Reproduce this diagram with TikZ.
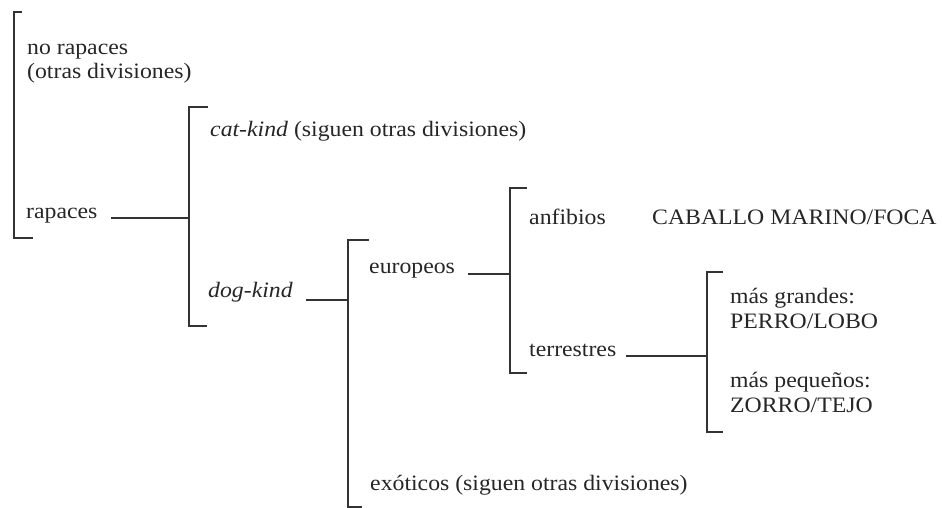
\documentclass[tikz,border=0pt]{standalone}
\usepackage{fontspec}
\setmainfont[FakeStretch=1.08]{Liberation Serif}
\begin{document}
\begin{tikzpicture}[x=1pt,y=-1pt,
  txt/.style={anchor=base west,inner sep=0pt,text=black!85,font=\fontsize{22}{26}\selectfont},
  ln/.style={line width=1.8pt,draw=black!80}]
\useasboundingbox (0,0) rectangle (942,508);
% texts
\node[txt] (norap) at (27,55) {no rapaces};
\node[txt] (otras) at (27,79) {(otras divisiones)};
\node[txt] (rap) at (26,218) {rapaces};
\node[txt] (cat) at (210,137) {\textit{cat-kind} (siguen otras divisiones)};
\node[txt] (dog) at (208,297) {\textit{dog-kind}};
\node[txt] (eur) at (369,273) {europeos};
\node[txt] (exo) at (370,490) {exóticos (siguen otras divisiones)};
\node[txt] (anf) at (529,224) {anfibios};
\node[txt] (cab) at (652,224) {CABALLO MARINO/FOCA};
\node[txt] (ter) at (529,356) {terrestres};
\node[txt] (mg) at (730,303) {más grandes:};
\node[txt] (pl) at (730,328) {PERRO/LOBO};
\node[txt] (mp) at (730,387) {más pequeños:};
\node[txt] (zt) at (730,412) {ZORRO/TEJO};
% bracket coordinates
\coordinate (b1t) at (14,12);   \coordinate (b1b) at (14,238);
\coordinate (b2t) at (189,107); \coordinate (b2b) at (189,326);
\coordinate (b3t) at (348,240); \coordinate (b3b) at (348,507);
\coordinate (b4t) at (510,188); \coordinate (b4b) at (510,373);
\coordinate (b5t) at (707,272); \coordinate (b5b) at (707,432);
\coordinate (j2) at (189,218);
\coordinate (j3) at (348,300);
\coordinate (j4) at (510,274);
\coordinate (j5) at (707,356);
% brackets
\draw[ln] ([xshift=8pt]b1t) -- (b1t) -- (b1b) -- ([xshift=19pt]b1b);
\draw[ln] ([xshift=19pt]b2t) -- (b2t) -- (b2b) -- ([xshift=18pt]b2b);
\draw[ln] ([xshift=21pt]b3t) -- (b3t) -- (b3b) -- ([xshift=14pt]b3b);
\draw[ln] ([xshift=17pt]b4t) -- (b4t) -- (b4b) -- ([xshift=17pt]b4b);
\draw[ln] ([xshift=16pt]b5t) -- (b5t) -- (b5b) -- ([xshift=16pt]b5b);
% connectors
\draw[ln] ([xshift=13pt]rap.east |- j2) -- (j2);
\draw[ln] ([xshift=13pt]dog.east |- j3) -- (j3);
\draw[ln] ([xshift=13pt]eur.east |- j4) -- (j4);
\draw[ln] ([xshift=10pt]ter.east |- j5) -- (j5);
\end{tikzpicture}
\end{document}
